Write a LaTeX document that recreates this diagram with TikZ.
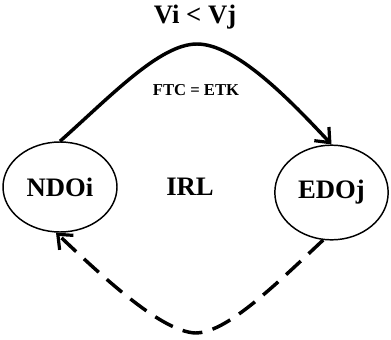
\documentclass[tikz,border=0pt]{standalone}
\usepackage{fontspec}
\setmainfont{Liberation Serif}
\usetikzlibrary{arrows.meta}
\usetikzlibrary{shapes.geometric}
\usetikzlibrary{positioning}
\tikzstyle{state}=[draw,ellipse,line width=1.1pt,inner sep=0pt,font=\bfseries\fontsize{20}{24}\selectfont]
\tikzstyle{flow}=[line width=2.6pt,-{Straight Barb[length=9pt,width=15pt,line width=2.4pt]}]

\begin{document}
\begin{tikzpicture}[x=0.75pt,y=-0.75pt]
\useasboundingbox (0,0) rectangle (391,339);
    \node [state,minimum width=85.5pt,minimum height=67.5pt] (ndo) at (60,187) {NDOi};
    \node [state,minimum width=85pt,minimum height=71pt] (edo) at (331.5,192.5) {EDOj};

\draw [flow] (ndo.north) .. controls (112,95) and (160,44) .. (197,44)
    .. controls (236,44) and (290,100) .. (edo.north);
\draw [flow,dash pattern=on 15pt off 8pt] (edo.-100) .. controls (268,292) and (225,333) .. (195,333)
    .. controls (162,331) and (108,282) .. (ndo.-95);

\node [anchor=base,font=\bfseries\fontsize{20}{24}\selectfont] (cond) at (195,23) {Vi < Vj};
\node [anchor=base,font=\bfseries\fontsize{12.5}{15}\selectfont] (eq) at (196,95) {FTC = ETK};
\node [anchor=base,font=\bfseries\fontsize{20}{24}\selectfont] (irl) at (190,195) {IRL};
\end{tikzpicture}
\end{document}
